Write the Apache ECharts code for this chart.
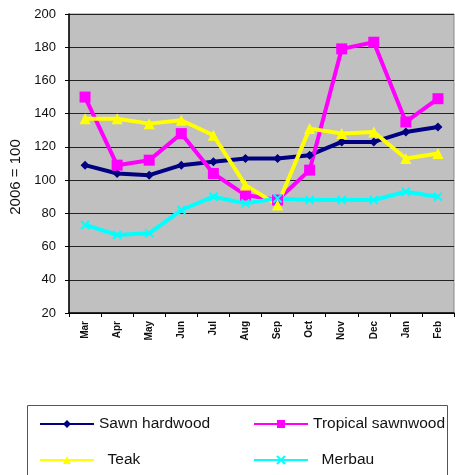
<!DOCTYPE html>
<html><head><meta charset="utf-8">
<script src="https://cdn.jsdelivr.net/npm/echarts@6/dist/echarts.min.js"></script>
<style>html,body{margin:0;padding:0;background:#fff}#c{width:455px;height:475px}</style>
</head><body><div id="c"></div>
<script>
const months = ['Mar','Apr','May','Jun','Jul','Aug','Sep','Oct','Nov','Dec','Jan','Feb'];
const sawnHardwood = [109,104,103,109,111,113,113,115,123,123,129,132];
const tropicalSawnwood = [150,109,112,128,104,91,88,106,179,183,135,149];
const teak = [137,137,134,136,127,97,85,131,128,129,113,116];
const merbau = [73,67,68,82,90,86,89,88,88,88,93,90];
const yTicks = {min:20, max:200, interval:20};
const yTitle = '2006 = 100';

const xPath = 'path://M0,0L10,10M10,0L0,10';
const chart = echarts.init(document.getElementById('c'));
const font = 'Liberation Sans, Arial, sans-serif';
function s(name, data, color, symbol, size){
  return {name, type:'line', data, symbol, symbolSize:size, showSymbol:true,
    lineStyle:{color, width:4}, itemStyle:{color, borderColor:color, borderWidth: symbol===xPath?2:0},
    emphasis:{disabled:true}, animation:false};
}
function lg(name, left, top, label){
  return {data:[name], left, top, padding:0, itemWidth:54, itemHeight:10, itemGap:0,
    formatter: label || name,
    textStyle:{fontFamily:font, fontSize:15.5, color:'#111'}, selectedMode:false};
}
chart.setOption({
  animation:false,
  grid:{left:69, right:1, top:14, bottom:162, show:true, backgroundColor:'#c0c0c0', borderColor:'#888', borderWidth:1},
  xAxis:{type:'category', data:months, boundaryGap:true,
    axisLine:{lineStyle:{color:'#000', width:1.5}},
    axisTick:{show:true, length:4, lineStyle:{color:'#000'}},
    axisLabel:{rotate:90, fontSize:10, fontWeight:'bold', color:'#111', fontFamily:font, margin:8}},
  yAxis:{type:'value', min:yTicks.min, max:yTicks.max, interval:yTicks.interval,
    axisLine:{show:true, lineStyle:{color:'#000', width:1.5}},
    axisTick:{show:true, length:4, lineStyle:{color:'#000'}},
    axisLabel:{fontSize:13, color:'#111', fontFamily:font, margin:13},
    splitLine:{lineStyle:{color:'#222', width:1.2}}},
  legend:[lg('Sawn hardwood',39,416), lg('Tropical sawnwood',253,416), lg('Teak',39,452,'  Teak'), lg('Merbau',253,452,'  Merbau')],
  graphic:[
    {type:'rect', shape:{x:27.5,y:405.5,width:420,height:90}, style:{fill:'none', stroke:'#555', lineWidth:1}, silent:true},
    {type:'text', x:16, y:177, rotation:Math.PI/2, style:{text:yTitle, font:'15px Liberation Sans, Arial, sans-serif', fill:'#111', align:'center', verticalAlign:'middle'}, silent:true}
  ],
  series:[
    s('Sawn hardwood', sawnHardwood, '#000080', 'diamond', 9),
    s('Tropical sawnwood', tropicalSawnwood, '#ff00ff', 'rect', 11),
    s('Teak', teak, '#ffff00', 'triangle', 11),
    s('Merbau', merbau, '#00ffff', xPath, 8)
  ]
});
</script></body></html>
